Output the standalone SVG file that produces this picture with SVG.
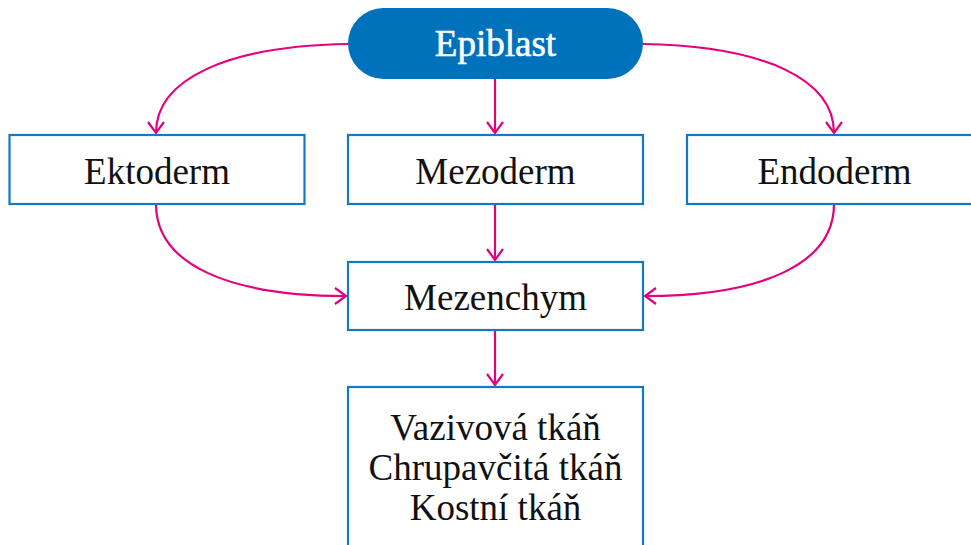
<svg xmlns="http://www.w3.org/2000/svg" width="971" height="545" viewBox="0 0 971 545">
<defs>
<style>
.box{fill:#fff;stroke:#1279c2;stroke-width:2.2}
.pill{fill:#0071bb}
.t{font-family:"Liberation Serif","DejaVu Serif",serif;font-size:37px;fill:#111;text-anchor:middle}
.tw{fill:#fff;stroke:#fff;stroke-width:0.6}
.c{fill:none;stroke:#e5007d;stroke-width:2.2}
</style>
<marker id="ah" viewBox="0 0 14 18" refX="12" refY="9" markerWidth="14" markerHeight="18" markerUnits="userSpaceOnUse" orient="auto">
<path d="M1,1 L12,9 L1,17" fill="none" stroke="#e5007d" stroke-width="2.2"/>
</marker>
</defs>
<rect width="971" height="545" fill="#fff"/>
<g id="connectors">
<path class="c" d="M348,44 C225,46 156,80 156,133" marker-end="url(#ah)"/>
<path class="c" d="M495,79 L495,133" marker-end="url(#ah)"/>
<path class="c" d="M643,44 C766,46 834,80 834,133" marker-end="url(#ah)"/>
<path class="c" d="M156,204 C156,265 230,296 346,296" marker-end="url(#ah)"/>
<path class="c" d="M495,204 L495,260" marker-end="url(#ah)"/>
<path class="c" d="M834,204 C834,265 760,296 645,296" marker-end="url(#ah)"/>
<path class="c" d="M495,330 L495,385" marker-end="url(#ah)"/>
</g>
<g id="epiblast">
<rect class="pill" x="348" y="8" width="295" height="71" rx="35.5"/>
<text class="t tw" x="495.5" y="56">Epiblast</text>
</g>
<g id="ektoderm">
<rect class="box" x="9.5" y="135" width="295" height="69"/>
<text class="t" x="157" y="184">Ektoderm</text>
</g>
<g id="mezoderm">
<rect class="box" x="348" y="135" width="295" height="69"/>
<text class="t" x="495.5" y="184">Mezoderm</text>
</g>
<g id="endoderm">
<rect class="box" x="687" y="135" width="295" height="69"/>
<text class="t" x="834.5" y="184">Endoderm</text>
</g>
<g id="mezenchym">
<rect class="box" x="348" y="262" width="295" height="68"/>
<text class="t" x="495.5" y="310">Mezenchym</text>
</g>
<g id="tkane">
<rect class="box" x="348" y="387" width="295" height="180"/>
<text class="t" x="495.5" y="440">Vazivová tkáň</text>
<text class="t" x="495.5" y="480">Chrupavčitá tkáň</text>
<text class="t" x="495.5" y="520">Kostní tkáň</text>
</g>
</svg>
